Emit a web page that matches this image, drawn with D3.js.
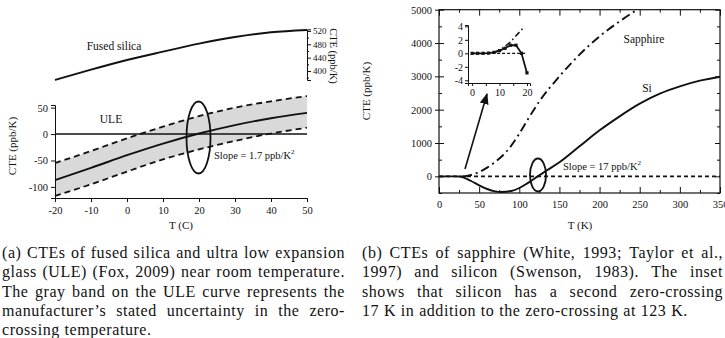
<!DOCTYPE html>
<html>
<head>
<meta charset="utf-8">
<script src="https://cdn.jsdelivr.net/npm/d3@7"></script>
<style>
body { margin: 0; background: #fff; }
svg text { font-family: "Liberation Serif", "Times New Roman", serif; fill: #111; }
.axis path, .axis line { stroke: #111; }
.axis text { font-family: "Liberation Serif", "Times New Roman", serif; font-size: 10.5px; fill: #111; }
</style>
</head>
<body>
<svg id="fig" width="725" height="338"></svg>
<script>
// panel (a): ULE and fused silica near room temperature
var uleT = [-20, -10, 0, 10, 20, 30, 40, 50];
var uleMid = [-87, -64, -40, -18, 1, 17, 30, 40];
var uleUpper = [-55, -32, -8, 14, 34, 50, 62, 72];
var uleLower = [-117, -95, -71, -48, -29, -13, 1, 12];
var fusedSilica = [373, 404, 433, 458, 482, 502, 516, 523];

// panel (b): silicon and sapphire
var siT = [0, 10, 20, 25, 30, 40, 50, 60, 70, 78, 90, 100, 110, 123, 135, 150, 175, 200, 225, 250, 275, 300, 325, 350];
var siCTE = [0, 0, 0, -5, -30, -140, -270, -380, -450, -470, -440, -350, -210, 0, 190, 420, 900, 1380, 1800, 2180, 2480, 2700, 2870, 2990];
var sapT = [30, 40, 50, 60, 70, 80, 90, 100, 113, 125, 150, 175, 200, 225, 250];
var sapCTE = [0, 40, 130, 260, 430, 640, 920, 1280, 1800, 2250, 3000, 3650, 4200, 4650, 5050];

// inset: low temperature detail
var insetT = [0, 2, 4, 6, 8, 10, 12, 14, 16, 18, 20];
var insetSi = [0, 0, 0, 0.03, 0.15, 0.4, 0.75, 1.2, 1.2, 0, -2.9];
var insetSapT = [8, 10, 12, 14, 16, 18.5];
var insetSap = [0.1, 0.5, 1.0, 1.7, 2.6, 3.7];

// tick labels
var ticksA_x = [-20, -10, 0, 10, 20, 30, 40, 50];
var ticksA_y = [-100, -50, 0, 50];
var ticksF = [400, 440, 480, 520];
var ticksB_x = [0, 50, 100, 150, 200, 250, 300, 350];
var ticksB_y = [0, 1000, 2000, 3000, 4000, 5000];
var ticksI_y = [-4, -2, 0, 2, 4];
var ticksI_x = [0, 10, 20];

var serif = "'Liberation Serif', 'Times New Roman', serif";
var svg = d3.select("#fig");
var plain = function(d) { return String(d); };

svg.append("defs").append("marker")
    .attr("id", "head")
    .attr("viewBox", "0 0 10 10")
    .attr("refX", 9).attr("refY", 5)
    .attr("markerWidth", 7).attr("markerHeight", 7)
    .attr("orient", "auto")
    .append("path").attr("d", "M0,1 L10,5 L0,9 Z").attr("fill", "#111");

function label(x, y, txt, size, anchor) {
    return svg.append("text").attr("x", x).attr("y", y)
        .attr("text-anchor", anchor || "middle")
        .attr("font-family", serif).style("font-size", size + "px").text(txt);
}

// ---------- panel (a) ----------
var xA = d3.scaleLinear().domain([-20, 50]).range([55, 307]);
var yA = d3.scaleLinear().domain([-121, 55]).range([198, 105]);
var yF = d3.scaleLinear().domain([373, 525]).range([80, 29.3]);

var ule = uleT.map(function(t, i) { return {t: t, mid: uleMid[i], hi: uleUpper[i], lo: uleLower[i], fs: fusedSilica[i]}; });

svg.append("path").datum(ule)
    .attr("fill", "#d9d9d9")
    .attr("d", d3.area().curve(d3.curveMonotoneX)
        .x(function(d) { return xA(d.t); })
        .y0(function(d) { return yA(d.lo); })
        .y1(function(d) { return yA(d.hi); }));

svg.append("line")
    .attr("x1", xA(-20)).attr("x2", xA(50))
    .attr("y1", yA(0)).attr("y2", yA(0))
    .attr("stroke", "#111").attr("stroke-width", 1.5);

["hi", "lo"].forEach(function(k) {
    svg.append("path").datum(ule)
        .attr("fill", "none").attr("stroke", "#111").attr("stroke-width", 1.8)
        .attr("stroke-dasharray", "6,4")
        .attr("d", d3.line().curve(d3.curveMonotoneX)
            .x(function(d) { return xA(d.t); })
            .y(function(d) { return yA(d[k]); }));
});

svg.append("path").datum(ule)
    .attr("fill", "none").attr("stroke", "#111").attr("stroke-width", 1.9)
    .attr("d", d3.line().curve(d3.curveMonotoneX)
        .x(function(d) { return xA(d.t); })
        .y(function(d) { return yA(d.mid); }));

svg.append("path").datum(ule)
    .attr("fill", "none").attr("stroke", "#111").attr("stroke-width", 1.9)
    .attr("d", d3.line().curve(d3.curveMonotoneX)
        .x(function(d) { return xA(d.t); })
        .y(function(d) { return yF(d.fs); }));

svg.append("g").attr("class", "axis").attr("font-family", serif)
    .attr("transform", "translate(0," + yA(-121) + ")")
    .call(d3.axisBottom(xA).tickValues(ticksA_x).tickFormat(plain).tickSizeOuter(0).tickSize(4).tickPadding(5));

svg.append("g").attr("class", "axis").attr("font-family", serif)
    .attr("transform", "translate(" + xA(-20) + ",0)")
    .call(d3.axisLeft(yA).tickValues(ticksA_y).tickFormat(plain).tickSizeOuter(0).tickSize(4).tickPadding(3));

var fAxis = svg.append("g").attr("class", "axis").attr("font-family", serif)
    .attr("transform", "translate(" + xA(50) + ",0)");
fAxis.call(d3.axisRight(yF).tickValues(ticksF).tickFormat(plain).tickSizeOuter(0).tickSize(4).tickPadding(2));
fAxis.selectAll("text").style("font-size", "9px");
svg.append("g").attr("class", "axis")
    .attr("transform", "translate(" + xA(50) + ",0)")
    .call(d3.axisRight(yF).tickValues([380, 420, 460, 500]).tickFormat("").tickSizeOuter(0).tickSize(2))
    .select(".domain").remove();

svg.append("ellipse")
    .attr("cx", 198.5).attr("cy", 137.5).attr("rx", 12).attr("ry", 36)
    .attr("fill", "none").attr("stroke", "#111").attr("stroke-width", 1.8);

label(114, 50, "Fused silica", 11.5);
label(111, 123, "ULE", 11.5);
var sA = label(214, 159, "", 10.5, "start");
sA.append("tspan").text("Slope = 1.7 ppb/K");
sA.append("tspan").attr("dy", -5).style("font-size", "7px").text("2");

label(181, 229, "T (C)", 11);
svg.append("text").attr("transform", "translate(16,146) rotate(-90)").attr("text-anchor", "middle")
    .attr("font-family", serif).style("font-size", "11px").text("CTE (ppb/K)");
svg.append("text").attr("transform", "translate(330,56) rotate(90)").attr("text-anchor", "middle")
    .attr("font-family", serif).style("font-size", "10.5px").text("CTE (ppb/K)");

// ---------- panel (b) ----------
var xB = d3.scaleLinear().domain([0, 350]).range([439, 720]);
var yB = d3.scaleLinear().domain([-500, 5000]).range([193, 9.7]);

svg.append("clipPath").attr("id", "frameB").append("rect")
    .attr("x", xB(0)).attr("y", yB(5000)).attr("width", xB(350) - xB(0)).attr("height", yB(-500) - yB(5000));

svg.append("line")
    .attr("x1", xB(0)).attr("x2", xB(350)).attr("y1", yB(0)).attr("y2", yB(0))
    .attr("stroke", "#111").attr("stroke-width", 1.6).attr("stroke-dasharray", "4,3");

var si = siT.map(function(t, i) { return [t, siCTE[i]]; });
var sap = sapT.map(function(t, i) { return [t, sapCTE[i]]; });

svg.append("path").datum(sap).attr("clip-path", "url(#frameB)")
    .attr("fill", "none").attr("stroke", "#111").attr("stroke-width", 1.9)
    .attr("stroke-dasharray", "9,4,2,4")
    .attr("d", d3.line().curve(d3.curveMonotoneX)
        .x(function(d) { return xB(d[0]); }).y(function(d) { return yB(d[1]); }));

svg.append("path").datum(si).attr("clip-path", "url(#frameB)")
    .attr("fill", "none").attr("stroke", "#111").attr("stroke-width", 1.9)
    .attr("d", d3.line().curve(d3.curveMonotoneX)
        .x(function(d) { return xB(d[0]); }).y(function(d) { return yB(d[1]); }));

svg.append("rect")
    .attr("x", xB(0)).attr("y", yB(5000)).attr("width", xB(350) - xB(0)).attr("height", yB(-500) - yB(5000))
    .attr("fill", "none").attr("stroke", "#111").attr("stroke-width", 1.2);

function frameAxis(axis, transform, values, size, fmt, pad) {
    var g = svg.append("g").attr("class", "axis").attr("font-family", serif).attr("transform", transform)
        .call(axis.tickValues(values).tickFormat(fmt).tickSizeOuter(0).tickSize(size).tickPadding(pad || 3));
    g.select(".domain").remove();
    return g;
}
var minorX = [25, 75, 125, 175, 225, 275, 325];
var minorY = [-500, 500, 1500, 2500, 3500, 4500];
frameAxis(d3.axisBottom(xB), "translate(0," + yB(-500) + ")", ticksB_x, -6, plain, 8);
frameAxis(d3.axisBottom(xB), "translate(0," + yB(-500) + ")", minorX, -3, "");
frameAxis(d3.axisTop(xB), "translate(0," + yB(5000) + ")", ticksB_x, -6, "");
frameAxis(d3.axisTop(xB), "translate(0," + yB(5000) + ")", minorX, -3, "");
frameAxis(d3.axisLeft(yB), "translate(" + xB(0) + ",0)", ticksB_y, 4, plain, 3);
frameAxis(d3.axisLeft(yB), "translate(" + xB(0) + ",0)", ticksB_y, -5, "");
frameAxis(d3.axisLeft(yB), "translate(" + xB(0) + ",0)", minorY, -3, "");
frameAxis(d3.axisRight(yB), "translate(" + xB(350) + ",0)", ticksB_y, -5, "");
frameAxis(d3.axisRight(yB), "translate(" + xB(350) + ",0)", minorY, -3, "");

svg.append("ellipse")
    .attr("cx", 538).attr("cy", 175).attr("rx", 8).attr("ry", 16.5)
    .attr("fill", "none").attr("stroke", "#111").attr("stroke-width", 1.8);

label(644, 43, "Sapphire", 11.5);
label(647, 92, "Si", 11.5);
var sB = label(563, 170, "", 10.5, "start");
sB.append("tspan").text("Slope = 17 ppb/K");
sB.append("tspan").attr("dy", -5).style("font-size", "7px").text("2");

label(580, 229, "T (K)", 11);
svg.append("text").attr("transform", "translate(370,91) rotate(-90)").attr("text-anchor", "middle")
    .attr("font-family", serif).style("font-size", "11px").text("CTE (ppb/K)");

// arrow pointing to the inset
svg.append("line")
    .attr("x1", 465).attr("y1", 169).attr("x2", 487).attr("y2", 94)
    .attr("stroke", "#111").attr("stroke-width", 1.6).attr("marker-end", "url(#head)");

// ---------- inset ----------
var xI = d3.scaleLinear().domain([-1.5, 21.1]).range([468, 530]);
var yI = d3.scaleLinear().domain([-4.4, 4.2]).range([83, 25]);

var iAx = svg.append("g").attr("class", "axis").attr("font-family", serif).attr("transform", "translate(0,83)")
    .call(d3.axisBottom(xI).tickValues([0, 5, 10, 15, 20]).tickFormat(function(d) { return ticksI_x.indexOf(d) >= 0 ? String(d) : ""; })
        .tickSizeOuter(0).tickSize(3).tickPadding(3));
iAx.selectAll("text").style("font-size", "10px");
var iAy = svg.append("g").attr("class", "axis").attr("font-family", serif).attr("transform", "translate(468,0)")
    .call(d3.axisLeft(yI).tickValues(ticksI_y).tickFormat(plain).tickSizeOuter(0).tickSize(3).tickPadding(2));
iAy.selectAll("text").style("font-size", "10px");

svg.append("line")
    .attr("x1", xI(0)).attr("x2", xI(20)).attr("y1", yI(0)).attr("y2", yI(0))
    .attr("stroke", "#111").attr("stroke-width", 1.4).attr("stroke-dasharray", "3,2");

var iSap = insetSapT.map(function(t, i) { return [t, insetSap[i]]; });
svg.append("path").datum(iSap)
    .attr("fill", "none").attr("stroke", "#111").attr("stroke-width", 1.6)
    .attr("stroke-dasharray", "6,3,1.5,3")
    .attr("d", d3.line().x(function(d) { return xI(d[0]); }).y(function(d) { return yI(d[1]); }));

var iSi = insetT.map(function(t, i) { return [t, insetSi[i]]; });
svg.append("path").datum(iSi)
    .attr("fill", "none").attr("stroke", "#111").attr("stroke-width", 1.8)
    .attr("d", d3.line().x(function(d) { return xI(d[0]); }).y(function(d) { return yI(d[1]); }));
svg.selectAll("rect.mk").data(iSi).enter().append("rect").attr("class", "mk")
    .attr("x", function(d) { return xI(d[0]) - 1.6; })
    .attr("y", function(d) { return yI(d[1]) - 1.6; })
    .attr("width", 3.2).attr("height", 3.2).attr("fill", "#111");

// ---------- captions ----------
var capA = [
    "(a) CTEs of fused silica and ultra low expansion",
    "glass (ULE) (Fox, 2009) near room temperature.",
    "The gray band on the ULE curve represents the",
    "manufacturer\u2019s stated uncertainty in the zero-",
    "crossing temperature."
];
var capB = [
    "(b) CTEs of sapphire (White, 1993; Taylor et al.,",
    "1997) and silicon (Swenson, 1983). The inset",
    "shows that silicon has a second zero-crossing",
    "17 K in addition to the zero-crossing at 123 K."
];

function caption(lines, x0, x1, y0, dy) {
    lines.forEach(function(line, i) {
        var words = line.split(" ");
        var t = svg.append("text").attr("y", y0 + i * dy).attr("font-family", serif)
            .style("font-size", "16px").style("letter-spacing", "0.55px");
        var spans = words.map(function(w) { return t.append("tspan").text(w); });
        var widths = spans.map(function(s) { return s.node().getComputedTextLength(); });
        var last = i === lines.length - 1;
        var gap = last ? 4.8 : Math.max(3, (x1 - x0 - d3.sum(widths)) / (words.length - 1));
        var x = x0;
        spans.forEach(function(s, j) { s.attr("x", x); x += widths[j] + gap; });
    });
}
caption(capA, 2, 345, 258, 19.3);
caption(capB, 362, 723, 258, 19.3);
</script>
</body>
</html>
